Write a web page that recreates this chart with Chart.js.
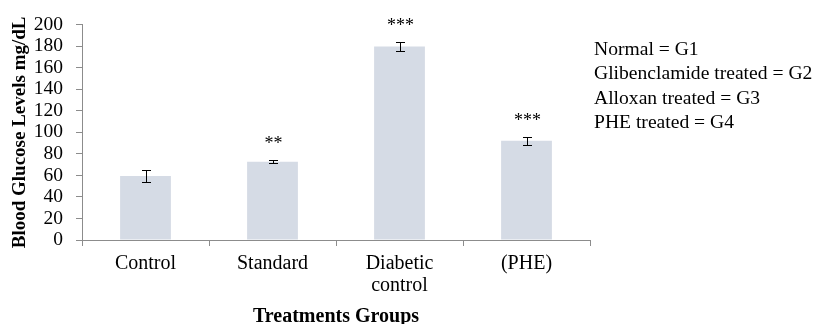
<!DOCTYPE html>
<html>
<head>
<meta charset="utf-8">
<script src="https://cdn.jsdelivr.net/npm/chart.js@4"></script>
<style>
  html, body { margin: 0; padding: 0; background: #fff; }
  #wrap { position: relative; width: 816px; height: 324px; }
  #legendText {
    position: absolute; left: 594px; top: 37px;
    font-family: "Liberation Serif", "Times New Roman", serif;
    font-size: 19.6px; line-height: 24.3px; color: #000; white-space: nowrap;
  }
</style>
</head>
<body>
<div id="wrap">
  <canvas id="c" width="816" height="324"></canvas>
  <div id="legendText">
    <div>Normal = G1</div>
    <div>Glibenclamide treated = G2</div>
    <div>Alloxan treated = G3</div>
    <div>PHE treated = G4</div>
  </div>
</div>
<script>
// Treatment groups and mean blood glucose (mg/dL) with SEM
const categories = ['Control', 'Standard', ['Diabetic', 'control'], '(PHE)'];
const glucoseMeans = [59.5, 72.8, 179.8, 92.3];
const glucoseErrors = [5.5, 1.2, 4.2, 3.6];
const significance = ['', '**', '***', '***'];
const yTicks = [0, 20, 40, 60, 80, 100, 120, 140, 160, 180, 200];

const serif = '"Liberation Serif", "Times New Roman", serif';

// Draws error bars and significance stars from the dataset values
const errorBarPlugin = {
  id: 'errorBars',
  afterDatasetsDraw(chart) {
    const ctx = chart.ctx;
    const meta = chart.getDatasetMeta(0);
    const y = chart.scales.y;
    ctx.save();
    meta.data.forEach((bar, i) => {
      const x = Math.round(bar.x) + 0.5;
      const top = Math.round(y.getPixelForValue(glucoseMeans[i] + glucoseErrors[i])) + 0.5;
      const bot = Math.round(y.getPixelForValue(glucoseMeans[i] - glucoseErrors[i])) + 0.5;
      ctx.strokeStyle = '#000';
      ctx.lineWidth = 1;
      ctx.beginPath();
      ctx.moveTo(x, top); ctx.lineTo(x, bot);
      ctx.moveTo(x - 4.5, top); ctx.lineTo(x + 4.5, top);
      ctx.moveTo(x - 4.5, bot); ctx.lineTo(x + 4.5, bot);
      ctx.stroke();
      if (significance[i]) {
        ctx.fillStyle = '#000';
        ctx.font = '18px ' + serif;
        ctx.textAlign = 'center';
        ctx.textBaseline = 'alphabetic';
        ctx.fillText(significance[i], x, top - 12);
      }
    });
    ctx.restore();
  }
};

new Chart(document.getElementById('c'), {
  type: 'bar',
  data: {
    labels: categories,
    datasets: [{
      data: glucoseMeans,
      backgroundColor: '#d5dbe5',
      borderWidth: 0,
      categoryPercentage: 1,
      barPercentage: 0.4
    }]
  },
  options: {
    responsive: false,
    animation: false,
    devicePixelRatio: 1,
    layout: { padding: { top: 21, right: 226, left: 9, bottom: 0 } },
    plugins: { legend: { display: false }, tooltip: { enabled: false } },
    scales: {
      x: {
        offset: true,
        grid: { offset: true, drawOnChartArea: false, tickLength: 6, color: '#8c8c8c' },
        border: { color: '#8c8c8c' },
        ticks: { color: '#000', font: { family: serif, size: 20, lineHeight: 1.1 }, padding: 7, maxRotation: 0, autoSkip: false },
        title: { display: true, text: 'Treatments Groups', color: '#000', font: { family: serif, size: 20, weight: 'bold', lineHeight: 1 }, padding: { top: 0, bottom: -3 } },
        afterFit(s) { s.height = 84; }
      },
      y: {
        min: 0, max: 200,
        afterBuildTicks(s) { s.ticks = yTicks.map(v => ({ value: v })); },
        grid: { drawOnChartArea: false, tickLength: 6, color: '#8c8c8c' },
        border: { color: '#8c8c8c' },
        ticks: { color: '#000', font: { family: serif, size: 19.5 }, padding: 13, autoSkip: false },
        title: { display: true, text: 'Blood Glucose Levels mg/dL', color: '#000', font: { family: serif, size: 19, weight: 'bold' }, padding: { top: 0, bottom: 2 } },
        afterFit(s) { s.width = 73; }
      }
    }
  },
  plugins: [errorBarPlugin]
});
</script>
</body>
</html>
